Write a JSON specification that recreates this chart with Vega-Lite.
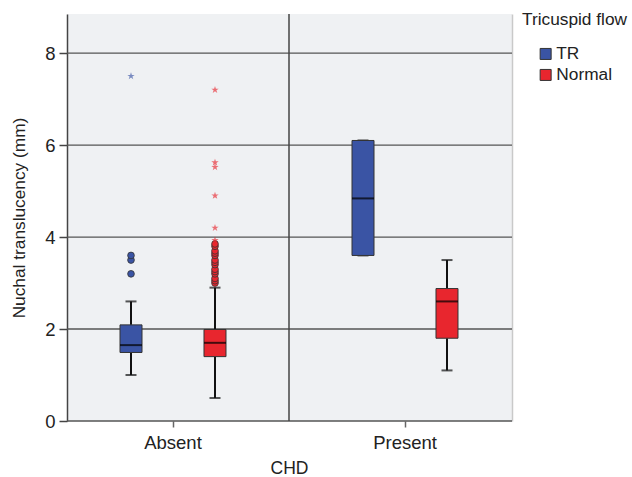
{
  "$schema": "https://vega.github.io/schema/vega-lite/v6.json",
  "autosize": {"type": "none"},
  "padding": {"left": 67, "top": 14, "right": 120, "bottom": 56},
  "width": 445,
  "height": 407,
  "background": "white",
  "config": {
    "font": "Liberation Sans",
    "view": {"fill": "#eff1f3", "stroke": null},
    "axis": {"labelFont": "Liberation Sans", "titleFont": "Liberation Sans", "labelFontSize": 18.5, "titleFontSize": 18, "titleFontWeight": "normal", "labelColor": "#222", "titleColor": "#222"},
    "legend": {"titleFont": "Liberation Sans", "labelFont": "Liberation Sans", "titleFontSize": 17.3, "labelFontSize": 17.3, "titleFontWeight": "normal", "titleColor": "#222", "labelColor": "#222"}
  },
  "datasets": {
    "boxes": [
      {"chd": "Absent", "flow": "TR", "lower": 1.0, "q1": 1.49, "median": 1.65, "q3": 2.09, "upper": 2.6},
      {"chd": "Absent", "flow": "Normal", "lower": 0.5, "q1": 1.4, "median": 1.7, "q3": 1.99, "upper": 2.9},
      {"chd": "Present", "flow": "TR", "lower": 3.6, "q1": 3.6, "median": 4.84, "q3": 6.1, "upper": 6.1},
      {"chd": "Present", "flow": "Normal", "lower": 1.1, "q1": 1.8, "median": 2.6, "q3": 2.88, "upper": 3.5}
    ],
    "outliers": [
      {"chd": "Absent", "flow": "TR", "value": 3.2},
      {"chd": "Absent", "flow": "TR", "value": 3.5},
      {"chd": "Absent", "flow": "TR", "value": 3.6},
      {"chd": "Absent", "flow": "Normal", "value": 3.0},
      {"chd": "Absent", "flow": "Normal", "value": 3.05},
      {"chd": "Absent", "flow": "Normal", "value": 3.1},
      {"chd": "Absent", "flow": "Normal", "value": 3.2},
      {"chd": "Absent", "flow": "Normal", "value": 3.25},
      {"chd": "Absent", "flow": "Normal", "value": 3.3},
      {"chd": "Absent", "flow": "Normal", "value": 3.4},
      {"chd": "Absent", "flow": "Normal", "value": 3.45},
      {"chd": "Absent", "flow": "Normal", "value": 3.5},
      {"chd": "Absent", "flow": "Normal", "value": 3.6},
      {"chd": "Absent", "flow": "Normal", "value": 3.65},
      {"chd": "Absent", "flow": "Normal", "value": 3.7},
      {"chd": "Absent", "flow": "Normal", "value": 3.8},
      {"chd": "Absent", "flow": "Normal", "value": 3.85}
    ],
    "extremes": [
      {"chd": "Absent", "flow": "TR", "value": 7.5},
      {"chd": "Absent", "flow": "Normal", "value": 3.93},
      {"chd": "Absent", "flow": "Normal", "value": 4.2},
      {"chd": "Absent", "flow": "Normal", "value": 4.9},
      {"chd": "Absent", "flow": "Normal", "value": 5.52},
      {"chd": "Absent", "flow": "Normal", "value": 5.62},
      {"chd": "Absent", "flow": "Normal", "value": 7.2}
    ],
    "grid": [{"v": 0}, {"v": 2}, {"v": 4}, {"v": 6}, {"v": 8}],
    "sep": [{"chd": "Present"}]
  },
  "encoding": {
    "x": {"field": "chd", "type": "nominal", "title": "CHD",
      "scale": {"domain": ["Absent", "Present"], "range": [-10, 454], "paddingInner": 0, "paddingOuter": 0},
      "axis": {"labelAngle": 0, "domain": false, "tickColor": "#666", "tickSize": 6, "tickWidth": 1.5, "labelPadding": 6, "titlePadding": 8, "titleFontSize": 17.5, "grid": false}},
    "xOffset": {"field": "flow", "type": "nominal", "scale": {"domain": ["TR", "Normal"], "paddingInner": 0, "paddingOuter": 0.381}}
  },
  "layer": [
    {
      "data": {"name": "grid"},
      "mark": {"type": "rule", "color": "#555", "strokeWidth": 1.3},
      "encoding": {
        "y": {"field": "v", "type": "quantitative", "axis": null},
        "x": null,
        "xOffset": null
      }
    },
    {
      "data": {"name": "boxes"},
      "mark": {"type": "rule", "strokeWidth": 0},
      "encoding": {
        "y": {"field": "q1", "type": "quantitative", "title": "Nuchal translucency (mm)",
          "scale": {"domain": [0, 8.85], "nice": false, "zero": false},
          "axis": {"values": [0, 2, 4, 6, 8], "domainColor": "#444", "domainWidth": 1.5, "tickColor": "#444", "tickWidth": 1.5, "tickSize": 8, "labelPadding": 4, "titlePadding": 16, "titleFontSize": 17.3, "grid": false}}
      }
    },
    {
      "data": {"name": "boxes"},
      "mark": {"type": "rule", "strokeWidth": 0},
      "encoding": {
        "y": {"field": "q1", "type": "quantitative",
          "axis": {"orient": "right", "labels": false, "ticks": false, "grid": false, "title": null, "domainColor": "#c9c9c9", "domainWidth": 1.5}}
      }
    },
    {
      "data": {"name": "sep"},
      "mark": {"type": "rule", "color": "#444", "strokeWidth": 1.5},
      "encoding": {
        "x": {"field": "chd", "type": "nominal", "bandPosition": 0},
        "xOffset": null
      }
    },
    {
      "data": {"name": "boxes"},
      "mark": {"type": "rule", "color": "#111", "strokeWidth": 2},
      "encoding": {
        "y": {"field": "lower", "type": "quantitative", "axis": null},
        "y2": {"field": "q1"}
      }
    },
    {
      "data": {"name": "boxes"},
      "mark": {"type": "rule", "color": "#111", "strokeWidth": 2},
      "encoding": {
        "y": {"field": "q3", "type": "quantitative", "axis": null},
        "y2": {"field": "upper"}
      }
    },
    {
      "data": {"name": "boxes"},
      "mark": {"type": "tick", "orient": "horizontal", "color": "#111", "size": 11, "thickness": 2},
      "encoding": {
        "y": {"field": "lower", "type": "quantitative", "axis": null}
      }
    },
    {
      "data": {"name": "boxes"},
      "mark": {"type": "tick", "orient": "horizontal", "color": "#111", "size": 11, "thickness": 2},
      "encoding": {
        "y": {"field": "upper", "type": "quantitative", "axis": null}
      }
    },
    {
      "data": {"name": "boxes"},
      "mark": {"type": "bar", "width": 22, "stroke": "#333", "strokeWidth": 1},
      "encoding": {
        "y": {"field": "q1", "type": "quantitative", "axis": null},
        "y2": {"field": "q3"},
        "color": {"field": "flow", "type": "nominal", "title": "Tricuspid flow",
          "scale": {"domain": ["TR", "Normal"], "range": ["#3a54a4", "#e8262e"]},
          "legend": {"orient": "none", "legendX": 455, "legendY": -3, "symbolType": "square", "symbolSize": 121, "symbolStrokeColor": "#333", "symbolStrokeWidth": 1, "symbolOffset": 15, "labelOffset": 2, "titlePadding": 17, "rowPadding": 3}}
      }
    },
    {
      "data": {"name": "boxes"},
      "mark": {"type": "tick", "orient": "horizontal", "color": "#000", "size": 22, "thickness": 2},
      "encoding": {
        "y": {"field": "median", "type": "quantitative", "axis": null}
      }
    },
    {
      "data": {"name": "outliers"},
      "mark": {"type": "point", "shape": "circle", "filled": true, "size": 45, "stroke": "#333", "strokeWidth": 0.8, "opacity": 1},
      "encoding": {
        "y": {"field": "value", "type": "quantitative", "axis": null},
        "color": {"field": "flow", "type": "nominal"}
      }
    },
    {
      "data": {"name": "extremes"},
      "mark": {"type": "point", "shape": "M0,-1L0.2245,-0.309L0.951,-0.309L0.363,0.118L0.588,0.809L0,0.382L-0.588,0.809L-0.363,0.118L-0.951,-0.309L-0.2245,-0.309Z", "filled": true, "size": 60, "strokeWidth": 0, "opacity": 0.65},
      "encoding": {
        "y": {"field": "value", "type": "quantitative", "axis": null},
        "color": {"field": "flow", "type": "nominal"}
      }
    }
  ],
  "resolve": {"axis": {"y": "independent"}}
}
